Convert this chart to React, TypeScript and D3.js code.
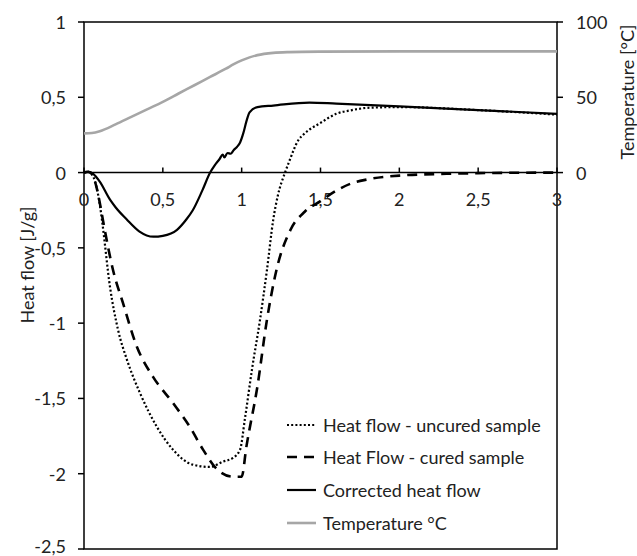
import React from "react";
import * as d3 from "d3";

const xTicks = [0, 0.5, 1, 1.5, 2, 2.5, 3];
const xTickLabels = ["0", "0,5", "1", "1,5", "2", "2,5", "3"];
const yTicks = [1, 0.5, 0, -0.5, -1, -1.5, -2, -2.5];
const yTickLabels = ["1", "0,5", "0", "-0,5", "-1", "-1,5", "-2", "-2,5"];
const tTicks = [0, 50, 100];
const tTickLabels = ["0", "50", "100"];

// Heat flow - uncured sample (dotted)
const uncuredX = [0, 0.03, 0.05, 0.07, 0.09, 0.1, 0.114, 0.165, 0.216, 0.273, 0.355, 0.463, 0.564, 0.69, 0.8, 0.88, 0.945, 0.99, 1.02, 1.065, 1.116, 1.16, 1.2, 1.23, 1.275, 1.3, 1.36, 1.4, 1.5, 1.6, 1.7, 1.8, 2.0, 2.5, 3.0];
const uncuredY = [0, 0.005, -0.01, -0.06, -0.15, -0.21, -0.315, -0.76, -1.045, -1.245, -1.464, -1.69, -1.84, -1.94, -1.955, -1.92, -1.895, -1.84, -1.64, -1.31, -0.98, -0.65, -0.315, -0.15, 0, 0.07, 0.216, 0.26, 0.33, 0.39, 0.415, 0.43, 0.435, 0.415, 0.385];

// Heat Flow - cured sample (dashed)
const curedX = [0, 0.02, 0.04, 0.06, 0.08, 0.1, 0.12, 0.184, 0.247, 0.336, 0.438, 0.564, 0.672, 0.755, 0.843, 0.945, 1.0, 1.03, 1.1, 1.16, 1.22, 1.31, 1.4, 1.5, 1.6, 1.7, 1.8, 2.0, 2.3, 2.5, 3.0];
const curedY = [0, 0.005, 0, -0.03, -0.1, -0.2, -0.315, -0.647, -0.866, -1.158, -1.357, -1.53, -1.69, -1.84, -1.97, -2.02, -2.02, -1.82, -1.42, -0.98, -0.65, -0.38, -0.26, -0.19, -0.12, -0.07, -0.045, -0.02, -0.008, -0.004, 0];

// Corrected heat flow (solid)
const correctedX = [0, 0.03, 0.06, 0.1, 0.165, 0.2, 0.27, 0.35, 0.44, 0.5, 0.59, 0.65, 0.69, 0.75, 0.8, 0.83, 0.86, 0.88, 0.89, 0.91, 0.93, 0.95, 0.97, 0.99, 1.01, 1.03, 1.05, 1.1, 1.2, 1.43, 1.6, 2.0, 2.5, 3.0];
const correctedY = [0, 0.005, -0.01, -0.06, -0.18, -0.23, -0.31, -0.39, -0.426, -0.42, -0.38, -0.31, -0.25, -0.12, 0, 0.05, 0.09, 0.12, 0.1, 0.13, 0.125, 0.15, 0.17, 0.2, 0.26, 0.34, 0.4, 0.435, 0.445, 0.465, 0.458, 0.44, 0.415, 0.39];

// Temperature °C (gray, right axis)
const tempX = [0, 0.05, 0.1, 0.2, 0.3, 0.4, 0.5, 0.6, 0.7, 0.8, 0.9, 0.95, 1.0, 1.05, 1.1, 1.2, 1.3, 1.5, 2.0, 3.0];
const tempY = [26, 26.3, 27.5, 32, 37, 42, 47, 52.5, 58, 63.5, 69, 72, 74.5, 76.5, 78, 79.5, 80, 80.3, 80.5, 80.5];

const legendLabels = [
  "Heat flow - uncured sample",
  "Heat Flow - cured sample",
  "Corrected heat flow",
  "Temperature °C",
];

const W = 637;
const H = 556;
const L = 84, R = 557, T = 22, B = 549;
const FONT = "Lato, 'Open Sans', sans-serif";
const FS = 18;

export default function App() {
  const x = d3.scaleLinear().domain([0, 3]).range([L, R]);
  const y = d3.scaleLinear().domain([-2.5, 1]).range([B, T]);
  const yT = d3.scaleLinear().domain([-250, 100]).range([B, T]);

  const mk = (xs: number[], ys: number[], sc: d3.ScaleLinear<number, number>) =>
    d3
      .line<number>()
      .x((_, i) => x(xs[i]))
      .y((v) => sc(v))
      .curve(d3.curveMonotoneX)(ys) || "";

  const uncuredPath = mk(uncuredX, uncuredY, y);
  const curedPath = mk(curedX, curedY, y);
  const correctedPath = mk(correctedX, correctedY, y);
  const tempPath = mk(tempX, tempY, yT);

  const styles = [
    { stroke: "#000", width: 2.2, dash: "2 2.2" },
    { stroke: "#000", width: 2.6, dash: "10 7" },
    { stroke: "#000", width: 2.2, dash: "" },
    { stroke: "#a6a6a6", width: 2.6, dash: "" },
  ];
  const legendY = [425, 457, 490, 523];
  const y0 = y(0);

  return (
    <svg
      width={W}
      height={H}
      style={{ position: "absolute", left: 0, top: 0, background: "#fff" }}
      fontFamily={FONT}
    >
      <rect x={0} y={0} width={W} height={H} fill="#fff" />
      {/* frame */}
      <rect x={L} y={T} width={R - L} height={B - T} fill="none" stroke="#000" strokeWidth={1.5} />
      {/* x axis at y=0 */}
      <line x1={L} x2={R} y1={y0} y2={y0} stroke="#000" strokeWidth={1.5} />
      {xTicks.map((t) => (
        <line key={"xt" + t} x1={x(t)} x2={x(t)} y1={y0} y2={y0 - 5} stroke="#000" strokeWidth={1.5} />
      ))}
      {xTicks.map((t, i) => (
        <text key={"xl" + t} x={x(t)} y={y0 + 26} fontSize={FS} textAnchor="middle" dominantBaseline="central" fill="#222">
          {xTickLabels[i]}
        </text>
      ))}
      {/* left ticks */}
      {yTicks.map((t, i) => (
        <g key={"yt" + t}>
          <line x1={L - 6} x2={L} y1={y(t)} y2={y(t)} stroke="#000" strokeWidth={1.5} />
          <text x={L - 18} y={Math.min(y(t), B - 3)} fontSize={FS} textAnchor="end" dominantBaseline="central" fill="#222">
            {yTickLabels[i]}
          </text>
        </g>
      ))}
      {/* right ticks */}
      {tTicks.map((t, i) => (
        <g key={"tt" + t}>
          <line x1={R} x2={R + 6} y1={yT(t)} y2={yT(t)} stroke="#000" strokeWidth={1.5} />
          <text x={R + 19} y={yT(t)} fontSize={FS} textAnchor="start" dominantBaseline="central" fill="#222">
            {tTickLabels[i]}
          </text>
        </g>
      ))}
      {/* axis titles */}
      <text
        transform={`translate(27,265) rotate(-90)`}
        fontSize={FS}
        textAnchor="middle"
        dominantBaseline="central"
        fill="#222"
      >
        Heat flow [J/g]
      </text>
      <text
        transform={`translate(627,92) rotate(-90)`}
        fontSize={FS}
        textAnchor="middle"
        dominantBaseline="central"
        fill="#222"
      >
        Temperature [°C]
      </text>
      {/* series */}
      <path d={tempPath} fill="none" stroke={styles[3].stroke} strokeWidth={styles[3].width} />
      <path d={uncuredPath} fill="none" stroke="#000" strokeWidth={styles[0].width} strokeDasharray={styles[0].dash} />
      <path d={curedPath} fill="none" stroke="#000" strokeWidth={styles[1].width} strokeDasharray={styles[1].dash} />
      <path d={correctedPath} fill="none" stroke="#000" strokeWidth={styles[2].width} />
      {/* legend */}
      {legendLabels.map((lab, i) => (
        <g key={lab}>
          <line
            x1={287}
            x2={316}
            y1={legendY[i]}
            y2={legendY[i]}
            stroke={styles[i].stroke}
            strokeWidth={styles[i].width}
            strokeDasharray={styles[i].dash || undefined}
          />
          <text x={323} y={legendY[i]} fontSize={FS} dominantBaseline="central" fill="#222">
            {lab}
          </text>
        </g>
      ))}
    </svg>
  );
}
